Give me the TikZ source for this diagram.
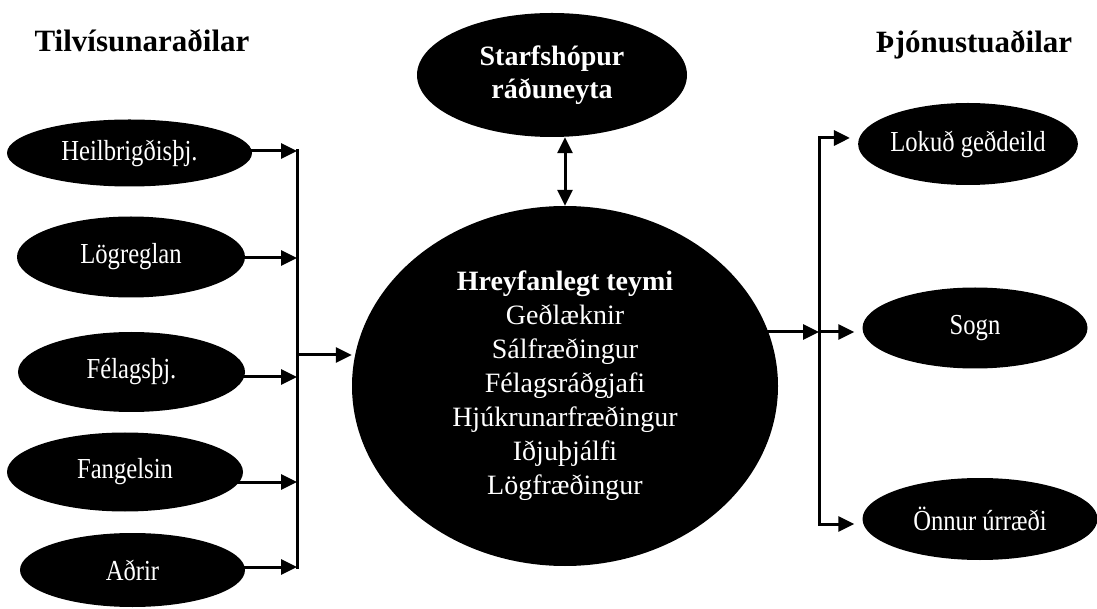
\documentclass[tikz,border=0pt]{standalone}
\usepackage{fontspec}
\usepackage{graphicx}
\setmainfont{Liberation Serif}
\usetikzlibrary{shapes.geometric,arrows.meta}

% narrow white labels as in the scan
\newcommand{\sq}[1]{\scalebox{0.85}[1]{#1}}

\tikzset{
  blob/.style={ellipse, fill=black, text=white, inner sep=0pt, font=\fontsize{29}{34}\selectfont},
  head/.style={anchor=base, font=\bfseries\fontsize{31}{36}\selectfont},
  arr/.style={line width=3pt, -{Triangle[length=16pt,width=15pt]}},
  dbl/.style={line width=3pt, {Triangle[length=16pt,width=15pt]}-{Triangle[length=16pt,width=15pt]}},
  bus/.style={line width=3pt, line cap=rect}
}

\begin{document}
\begin{tikzpicture}[x=1pt,y=1pt]
    \useasboundingbox (0,0) rectangle (1097,608);
    % Headings
    \node[head] (hdrL) at (142,556) {Tilvísunaraðilar};
    \node[head] (hdrR) at (974,555) {Þjónustuaðilar};
    % Referrers
    \node[blob, minimum width=245pt, minimum height=67pt] (heil) at (129.5,455) {\sq{Heilbrigðisþj.}};
    \node[blob, minimum width=228pt, minimum height=81pt] (logr) at (131,351) {\sq{Lögreglan}};
    \node[blob, minimum width=227pt, minimum height=80pt] (fel) at (131.5,236) {\sq{Félagsþj.}};
    \node[blob, minimum width=236pt, minimum height=79pt] (fang) at (125,136) {\sq{Fangelsin}};
    \node[blob, minimum width=225pt, minimum height=74pt] (adrir) at (132.5,38) {\sq{Aðrir}};
    % Mobile team and working group
    \node[blob, align=center, minimum width=426pt, minimum height=360pt,
          font=\fontsize{28}{34}\selectfont] (teymi) at (565,222)
        {\textbf{Hreyfanlegt teymi}\\Geðlæknir\\Sálfræðingur\\Félagsráðgjafi\\Hjúkrunarfræðingur\\Iðjuþjálfi\\Lögfræðingur};
    \node[blob, align=center, minimum width=270pt, minimum height=124pt,
          font=\bfseries\fontsize{28}{33}\selectfont] (starf) at (552,533)
        {Starfshópur\\ráðuneyta};
    % Service providers
    \node[blob, minimum width=217pt, minimum height=82pt] (lok) at (968,464) {\sq{Lokuð geðdeild}};
    \node[blob, minimum width=225pt, minimum height=81pt] (sogn) at (975,280) {\sq{Sogn}};
    \node[blob, minimum width=235pt, minimum height=82pt] (onnur) at (980,89) {\sq{Önnur úrræði}};
    % Left bus
    \coordinate (lb1) at (297,457);
    \coordinate (lb2) at (297,350);
    \coordinate (lb3) at (297,231);
    \coordinate (lb4) at (297,126);
    \coordinate (lb5) at (297,41);
    \coordinate (lbc) at (297,253);
    \draw[bus] (lb1) -- (lb5);
    \draw[arr, shorten <=-6pt] (lb1 -| heil.east) -- (lb1);
    \draw[arr, shorten <=-6pt] (lb2 -| logr.east) -- (lb2);
    \draw[arr, shorten <=-6pt] (lb3 -| fel.east) -- (lb3);
    \draw[arr, shorten <=-6pt] (lb4 -| fang.east) -- (lb4);
    \draw[arr, shorten <=-6pt] (lb5 -| adrir.east) -- (lb5);
    \draw[arr] (lbc) -- (lbc -| teymi.west);
    % Working group <-> team
    \draw[dbl] (starf.south -| teymi.north) -- (teymi.north);
    % Right bus
    \coordinate (rb1) at (819,470);
    \coordinate (rb2) at (819,276);
    \coordinate (rb3) at (819,84);
    \draw[bus] (rb1) -- (rb3);
    \draw[arr, shorten <=-12pt] (rb2 -| teymi.east) -- (rb2);
    \draw[arr, shorten >=8pt] (rb1) -- (rb1 -| lok.west);
    \draw[arr, shorten >=8pt] (rb2) -- (rb2 -| sogn.west);
    \draw[arr, shorten >=8pt] (rb3) -- (rb3 -| onnur.west);
\end{tikzpicture}
\end{document}
